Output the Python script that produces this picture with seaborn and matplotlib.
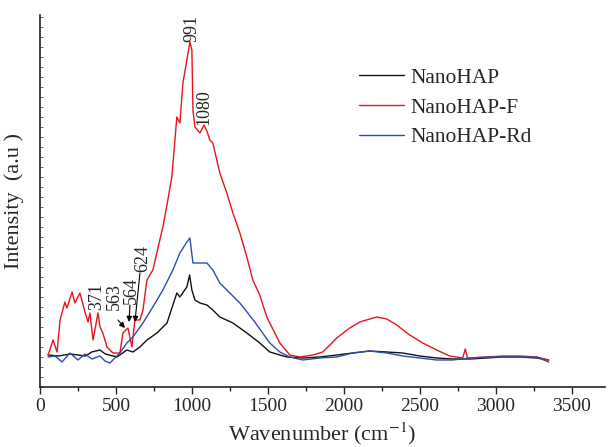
import pandas as pd
import matplotlib.pyplot as plt
import seaborn as sns

# Raman spectra (intensity in arbitrary units)
wn_f = [53, 86, 112, 132, 164, 178, 211, 230, 263, 296, 316, 329, 349, 382, 395, 414, 441, 480, 526,
        546, 579, 605, 625, 658, 678, 704, 743, 789, 809, 842, 868, 901, 921, 941, 967, 987, 1000,
        1007, 1020, 1053, 1080, 1099, 1118, 1138, 1184, 1230, 1270, 1316, 1362, 1401, 1447, 1493,
        1579, 1645, 1711, 1796, 1862, 1954, 2039, 2105, 2217, 2283, 2349, 2434, 2520, 2612, 2697,
        2783, 2800, 2815, 2842, 2941, 3046, 3158, 3270, 3349]
int_f = [32, 47, 35, 67, 85, 79, 95, 84, 94, 75, 65, 74, 47, 74, 60, 54, 40, 34, 34,
         54, 59, 40, 67, 67, 77, 107, 117, 147, 160, 187, 210, 270, 264, 304, 327, 345, 337,
         277, 260, 254, 262, 256, 247, 244, 214, 194, 174, 154, 130, 107, 92, 70,
         44, 32, 30, 32, 35, 49, 59, 65, 70, 68, 62, 52, 44, 37, 31,
         29, 38, 29, 29, 30, 31, 31, 30, 27]

wn_0 = [53, 120, 200, 300, 340, 395, 430, 507, 572, 612, 658, 704, 770, 836, 901, 921, 967, 985,
        1000, 1020, 1053, 1099, 1138, 1184, 1270, 1362, 1447, 1513, 1625, 1730, 1842, 1954, 2059,
        2171, 2283, 2388, 2500, 2612, 2717, 2829, 2941, 3046, 3158, 3270, 3349]
int_0 = [32, 31, 33, 31, 35, 37, 33, 30, 37, 35, 40, 47, 54, 64, 94, 90, 100, 112,
         97, 87, 84, 82, 77, 70, 64, 54, 44, 35, 30, 29, 30, 32, 34,
         36, 35, 34, 31, 29, 28, 28, 29, 30, 30, 29, 27]

wn_rd = [53, 99, 145, 197, 250, 296, 342, 395, 428, 461, 493, 526, 572, 612, 678, 743, 809, 875,
         921, 967, 987, 1007, 1053, 1099, 1138, 1184, 1250, 1316, 1368, 1414, 1461, 1513, 1579,
         1645, 1730, 1842, 1954, 2059, 2171, 2283, 2388, 2500, 2612, 2717, 2829, 2941, 3046, 3158,
         3270, 3349]
int_rd = [30, 31, 25, 34, 27, 33, 28, 31, 26, 24, 29, 34, 44, 50, 64, 80, 97, 117,
          134, 145, 149, 124, 124, 124, 117, 104, 94, 84, 74, 65, 55, 44, 35,
          30, 27, 29, 30, 34, 36, 34, 31, 29, 27, 27, 29, 30, 30, 30,
          30, 25]

series = ['NanoHAP', 'NanoHAP-F', 'NanoHAP-Rd']
colors = ['#111111', '#e8141c', '#2c4fa6']

df = pd.concat([
    pd.DataFrame({'wn': wn_0, 'I': int_0, 'sample': series[0]}),
    pd.DataFrame({'wn': wn_f, 'I': int_f, 'sample': series[1]}),
    pd.DataFrame({'wn': wn_rd, 'I': int_rd, 'sample': series[2]}),
])

sns.set_style('ticks')
plt.rcParams['font.family'] = ['Liberation Serif', 'DejaVu Serif']
plt.rcParams['mathtext.fontset'] = 'stix'

fig = plt.figure(figsize=(6.09, 4.47), dpi=100)
ax = fig.add_axes([40 / 609, 60 / 447, 565 / 609, 372 / 447])

sns.lineplot(data=df, x='wn', y='I', hue='sample', hue_order=series,
             palette=colors, linewidth=1.0, ax=ax)

ax.set_xlim(0, 3720)
ax.set_ylim(0, 372)
ax.set_xticks(range(0, 3501, 500))
ax.set_xticks(range(250, 3501, 500), minor=True)
ax.set_yticks(range(0, 371, 10))
ax.set_yticklabels([])
ax.tick_params(axis='x', which='major', length=5, width=1, labelsize=14, direction='out', pad=3)
ax.tick_params(axis='x', which='minor', length=3, width=1, direction='out')
ax.tick_params(axis='y', length=2, width=0.6, direction='in', color='#555555')
sns.despine(ax=ax)
for s in ['left', 'bottom']:
    ax.spines[s].set_linewidth(1.2)
    ax.spines[s].set_color('#222222')

ax.set_xlabel('Wavenumber (cm$^{-1}$)', fontsize=16, labelpad=4)
ax.set_ylabel('Intensity  (a.u )', fontsize=16, labelpad=8)

# peak labels
peaks = [('991', 997, 359), ('1080', 1079, 280), ('371', 375, 91), ('563', 487, 91),
         ('564', 599, 97), ('624', 678, 129)]
for txt, x, y in peaks:
    ax.text(x, y, txt, rotation=90, ha='center', va='center', fontsize=13)

arrows = [((513, 67), (559, 59)), ((592, 82), (586, 65)), ((658, 114), (625, 65))]
for start, end in arrows:
    ax.annotate('', xy=end, xytext=start,
                arrowprops=dict(arrowstyle='-|>', color='black', lw=0.8,
                                mutation_scale=8, shrinkA=0, shrinkB=0))

ax.legend(loc='upper left', bbox_to_anchor=(0.53, 0.91), frameon=False, fontsize=15.5,
          handlelength=2.1, handletextpad=0.3, labelspacing=0.45, title=None)

plt.savefig('out.png', dpi=100)
